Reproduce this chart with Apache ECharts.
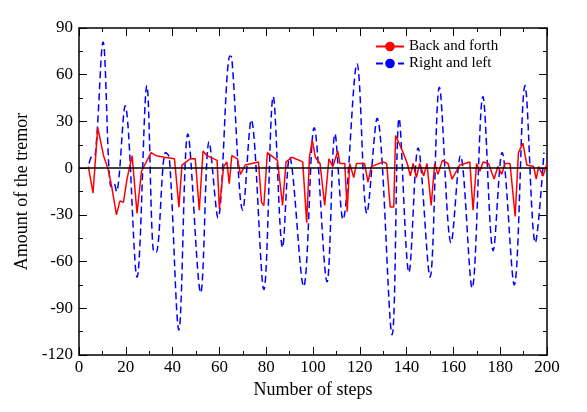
<!DOCTYPE html>
<html lang="en">
<head>
<meta charset="UTF-8">
<title>tremor</title>
<script src="https://cdn.jsdelivr.net/npm/echarts@6/dist/echarts.min.js"></script>
<style>
    html, body { margin: 0; padding: 0; background: #fff; }
</style>
</head>
<body>
<div id="main" style="width:587px;height:412px;"></div>
<script>
    // [step, amount]
    var backForth = [[4,1],[6,-16],[8,26],[10.5,8],[12.5,-1],[14,-12],[16,-30],[17.5,-21],[19,-22],[20.5,-7],
        [22.7,8],[24.8,-29],[26.7,-2],[30.8,10],[33,8],[36.5,7],[40.8,6],[42.7,-25],[44,2],[47.5,6],[49.7,6],
        [51.4,-27],[53,11],[54.7,8],[59,5],[60,-26],[61.8,1],[63.2,4],[64.2,-10],[65.3,8],[67.7,6],[69,-4],
        [71,2],[76.7,4],[78,-22],[79,-24],[80.5,10],[84.8,5],[87,-24],[88.5,4],[91,7],[95.6,4],[97.3,-35],
        [98.5,7],[99.7,18],[101,7],[103,3],[105,-24],[106.8,6],[108.5,1],[110.6,11],[111.5,3],[113.6,3],
        [114.6,-28],[115.7,3],[117.4,-6],[118.6,3],[122,3],[123.5,-9],[124.9,1],[130,4],[131.5,3],[133,-25],
        [134.5,-25],[135.3,21],[138.5,10],[140.3,3],[141.6,-5],[142.8,3],[144.2,-6],[145.6,3],[147.3,-5],
        [148.7,3],[150.5,-24],[152,3],[153.4,-4],[155.3,5],[157.7,3],[159.4,-7],[162.7,2],[167,4],[168.4,-27],
        [169.9,3],[171.3,-2],[172.7,4],[175,3],[177.4,-7],[179,1],[180.7,-4],[182,3],[184.2,3],[186.4,-31],
        [187.8,10],[189.7,16],[191.4,2],[194.3,1],[195.4,-7],[196.4,1],[198.3,-5],[200,3]];
    var rightLeft = [[4.3,3],[5.5,8],[7,9],[10.3,81],[13.7,-12],[15,-10],[16,-15],[19.7,40],[24.8,-70],
        [29,53],[32,-54],[33,-54],[37,10],[38.6,7],[42.7,-104],[46.5,22],[52,-80],[55.6,17],[59.4,-32],
        [64.5,72],[65.3,71],[70,-27],[73.6,31],[79,-78],[83,46],[87,-51],[90,7],[96,-76],[100.5,26],
        [106,-73],[109.4,22],[112.8,-33],[118.8,67],[123,-29],[127.4,32],[133.8,-107],[136.8,32],[141,-67],
        [144.9,13],[150,-70],[154,52],[159,-48],[163,8],[168,-77],[172.6,46],[177,-53],[180.8,10],
        [186,-75],[190.6,53],[195,-48],[198.7,10]];
    var xTicks = [0, 20, 40, 60, 80, 100, 120, 140, 160, 180, 200];
    var yTicks = [-120, -90, -60, -30, 0, 30, 60, 90];

    var font = 'Liberation Serif';
    var chart = echarts.init(document.getElementById('main'));

    function axisBase() {
        return {
            type: 'value',
            axisLine: {show: true, onZero: false, lineStyle: {color: '#000', width: 1.5}},
            axisTick: {show: true, inside: true, length: 8, lineStyle: {color: '#000'}},
            minorTick: {show: true, splitNumber: 2, length: 4, lineStyle: {color: '#000'}},
            splitLine: {show: false}
        };
    }

    var x0 = axisBase();
    x0.min = xTicks[0]; x0.max = xTicks[xTicks.length - 1]; x0.interval = 20;
    x0.name = 'Number of steps'; x0.nameLocation = 'middle'; x0.nameGap = 13;
    x0.nameTextStyle = {fontFamily: font, fontSize: 18, color: '#000'};
    x0.axisLabel = {fontFamily: font, fontSize: 17, color: '#000', margin: 4};
    var x1 = axisBase();
    x1.min = x0.min; x1.max = x0.max; x1.interval = 20; x1.position = 'top'; x1.axisLabel = {show: false};

    var y0 = axisBase();
    y0.min = yTicks[0]; y0.max = yTicks[yTicks.length - 1]; y0.interval = 30;
    y0.name = 'Amount of the tremor'; y0.nameLocation = 'middle'; y0.nameGap = 48;
    y0.nameTextStyle = {fontFamily: font, fontSize: 18, color: '#000'};
    y0.axisLabel = {fontFamily: font, fontSize: 17, color: '#000', margin: 6};
    var y1 = axisBase();
    y1.min = y0.min; y1.max = y0.max; y1.interval = 30; y1.position = 'right'; y1.axisLabel = {show: false};

    chart.setOption({
        animation: false,
        grid: {left: 79, right: 40, top: 28, bottom: 57},
        legend: {
            show: true, orient: 'vertical', left: 370, top: 34, itemWidth: 28, itemHeight: 12, itemGap: 2,
            textStyle: {fontFamily: font, fontSize: 15, color: '#000'},
            data: ['Back and forth', 'Right and left']
        },
        xAxis: [x0, x1],
        yAxis: [y0, y1],
        series: [
            {
                name: 'Right and left', type: 'line', data: rightLeft, smooth: 0.35, symbol: 'none',
                itemStyle: {color: '#0000ff'},
                lineStyle: {color: '#0000ff', width: 1.5, type: [7, 4]}
            },
            {
                name: 'Back and forth', type: 'line', data: backForth, symbol: 'none',
                itemStyle: {color: '#ff0000'},
                lineStyle: {color: '#ff0000', width: 1.5},
                markLine: {
                    silent: true, symbol: 'none', label: {show: false},
                    lineStyle: {color: '#000', type: 'solid', width: 1.5},
                    data: [{yAxis: 0}]
                }
            }
        ]
    });
</script>
</body>
</html>
